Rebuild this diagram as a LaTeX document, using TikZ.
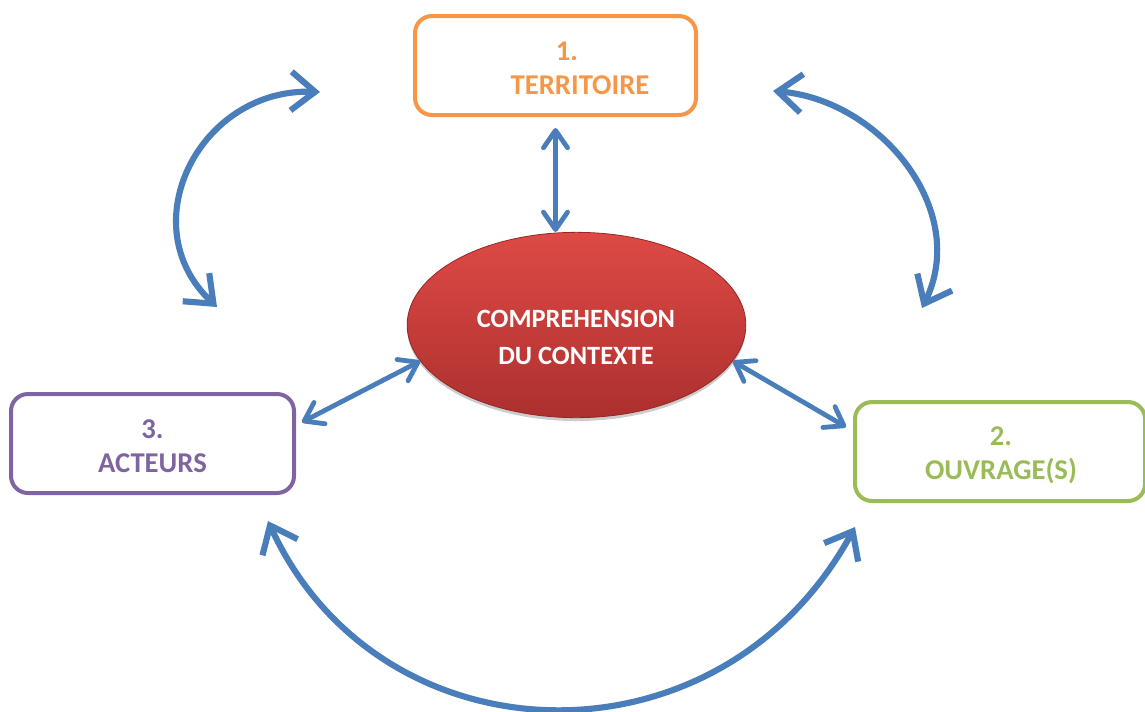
\documentclass[tikz,border=0pt]{standalone}
\usepackage{fontspec}
\setmainfont{Carlito}
\usetikzlibrary{arrows.meta,shapes.geometric,shadows}
\definecolor{arrblue}{RGB}{74,126,187}
\definecolor{orng}{RGB}{247,150,70}
\definecolor{purp}{RGB}{128,100,162}
\definecolor{grn}{RGB}{155,187,89}
\definecolor{redtop}{RGB}{222,74,70}
\definecolor{redmid}{RGB}{204,64,60}
\definecolor{redbot}{RGB}{172,48,46}
\definecolor{redrim}{RGB}{150,38,36}
\begin{document}
\begin{tikzpicture}[x=0.75pt,y=-0.75pt,
  box/.style={draw=#1, line width=3pt, rounded corners=12.75pt, minimum height=74.25pt, inner sep=0pt},
  txt/.style={text=#1, font=\bfseries\fontsize{21.5pt}{25.5pt}\selectfont, align=center, inner sep=0pt},
  sarr/.style={draw=arrblue, line width=3.6pt, line cap=round, >={Straight Barb[length=13pt,width=18pt,round]}, <->},
  carr/.style={draw=arrblue, line width=4.6pt, >={Straight Barb[length=18pt,width=29pt,sharp]}, <->}]
\useasboundingbox (0,0) rectangle (1145,711);
% boxes
\node[box=orng, minimum width=210.75pt] (terr) at (555.5,65.5) {};
\node[box=purp, minimum width=212.25pt] (act) at (152.5,443.5) {};
\node[box=grn, minimum width=217.5pt] (ouv) at (1000,451.5) {};
% ellipse
\node[ellipse, minimum width=254pt, minimum height=139pt, inner sep=0pt,
      top color=redtop, middle color=redmid, bottom color=redbot, draw=redrim, line width=0.6pt,
      drop shadow={shadow xshift=0pt, shadow yshift=-2.5pt, opacity=0.2, fill=black}] (ell) at (576.5,325) {};
% texts
\node[txt=white, font=\bfseries\fontsize{19.8pt}{27.75pt}\selectfont] (elltxt) at (576,337) {COMPREHENSION\\DU CONTEXTE};
\node[txt=orng] (terrtxt) at (555.5,68.5) {\hspace*{17.25pt}1.\\\hspace*{36.75pt}TERRITOIRE};
\node[txt=purp] (acttxt) at (152.5,446.5) {3.\\ACTEURS};
\node[txt=grn] (ouvtxt) at (1001,455.5) {2.\\OUVRAGE(S)};
% straight arrows
\draw[sarr] ([yshift=-8.25pt]terr.south) -- (terr.south |- ell.north);
\draw[sarr] ([xshift=4.5pt,yshift=16pt]act.east) -- (ell.193);
\draw[sarr] (ell.-13) -- ([xshift=-5.25pt,yshift=18.4pt]ouv.west);
% curved arrows
\coordinate (tlA) at (320,92);
\coordinate (tlB) at (217,307);
\coordinate (trA) at (773,91);
\coordinate (trB) at (922,308);
\coordinate (bA) at (268,521);
\coordinate (bB) at (855,527);
\draw[carr] (tlA) .. controls (200,88) and (130,225) .. (tlB);
\draw[carr] (trA) .. controls (880,100) and (970,210) .. (trB);
\draw[carr] (bA) .. controls (380,765) and (720,775) .. (bB);
\end{tikzpicture}
\end{document}
